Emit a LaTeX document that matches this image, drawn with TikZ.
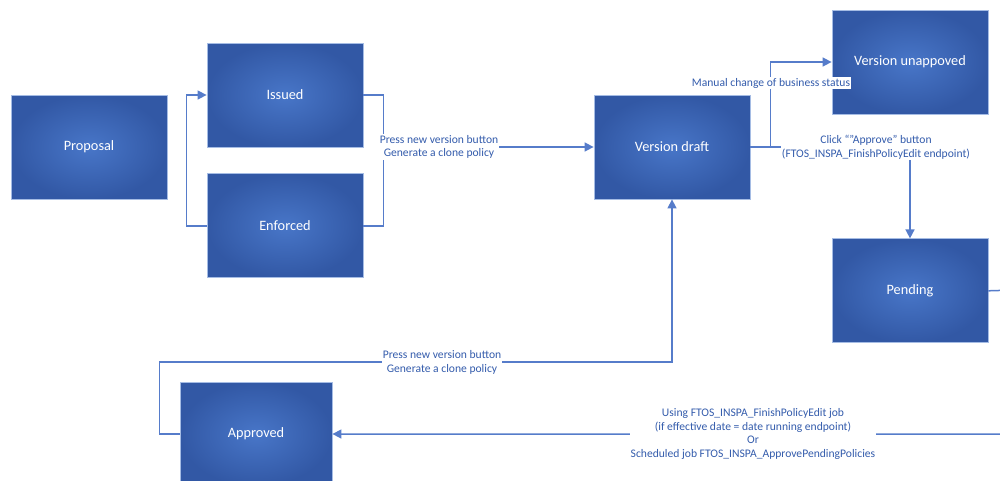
\documentclass[tikz,border=0pt]{standalone}
\usepackage{fontspec}
\setmainfont{Carlito}
\usepackage{tikz}
\usetikzlibrary{positioning}
\usetikzlibrary{arrows.meta}
\definecolor{boxblue}{RGB}{72,118,200}
\definecolor{boxdark}{RGB}{50,88,165}
\definecolor{boxedge}{RGB}{165,188,228}
\definecolor{linkblue}{RGB}{86,124,202}
\definecolor{textblue}{RGB}{52,92,172}
\tikzstyle{line} = [draw, linkblue, line width=1.5pt, -{Triangle[length=9pt,width=9pt]}]
\tikzstyle{wire} = [draw, linkblue, line width=1.5pt]

\begin{document}
\begin{tikzpicture}[x=1pt, y=-1pt,
      state/.style={rectangle,
      minimum width=156pt,
      minimum height=104pt,
      inner sep=0pt,
      draw=boxedge, line width=0.8pt,
      inner color=boxblue, outer color=boxdark,
      text=white, font=\fontsize{14.3}{17}\selectfont},
      note/.style={fill=white, inner sep=1pt, align=center,
      text=textblue, font=\fontsize{11.6}{13.8}\selectfont}]
    \useasboundingbox (0,0) rectangle (1000,480);
    \node [state] (P) at (89,147) {Proposal};
    \node [state] (Is) at (285,95) {Issued};
    \node [state, below=26pt of Is] (En) {Enforced};
    \node [state] (VD) at (672,147) {Version draft};
    \node [state] (VU) at (910,62) {Version unappoved};
    \node [state, below=124pt of VU] (Pe) {Pending};
    \node [state, minimum width=152pt] (Ap) at (256,434) {Approved};
    \coordinate (rt) at (1015,290);
    %% Issued / Enforced
    \path [line] (En.west) -- ++(-20,0) |- (Is.west);
    \path [wire] (Is.east) -- ++(20,0) |- (En.east);
    \node [note] (n1) at (439,147) {Press new version button\\Generate a clone policy};
    \path [line] (n1.east) -- (VD.west);
    %% Version draft
    \path [line] (VD.east) -- ++(20,0) |- (VU.west);
    \path [line] (VD.east) -| (Pe.north);
    \node [note] (n2) at (771,83) {Manual change of business status};
    \node [note] (n3) at (876,147) {Click “”Approve” button\\(FTOS\_INSPA\_FinishPolicyEdit endpoint)};
    %% Pending -> Approved
    \path [line] (Pe.east) -- (rt) |- (Ap.east);
    \node [note] (n4) at (753,434) {Using FTOS\_INSPA\_FinishPolicyEdit job\\(if effective date = date running endpoint)\\Or\\Scheduled job FTOS\_INSPA\_ApprovePendingPolicies};
    %% Approved -> Version draft
    \path [line] (Ap.west) -- ++(-20,0) -- ++(0,-72) -| (VD.south);
    \node [note] (n5) at (442,362) {Press new version button\\Generate a clone policy};
  \end{tikzpicture}
\end{document}
